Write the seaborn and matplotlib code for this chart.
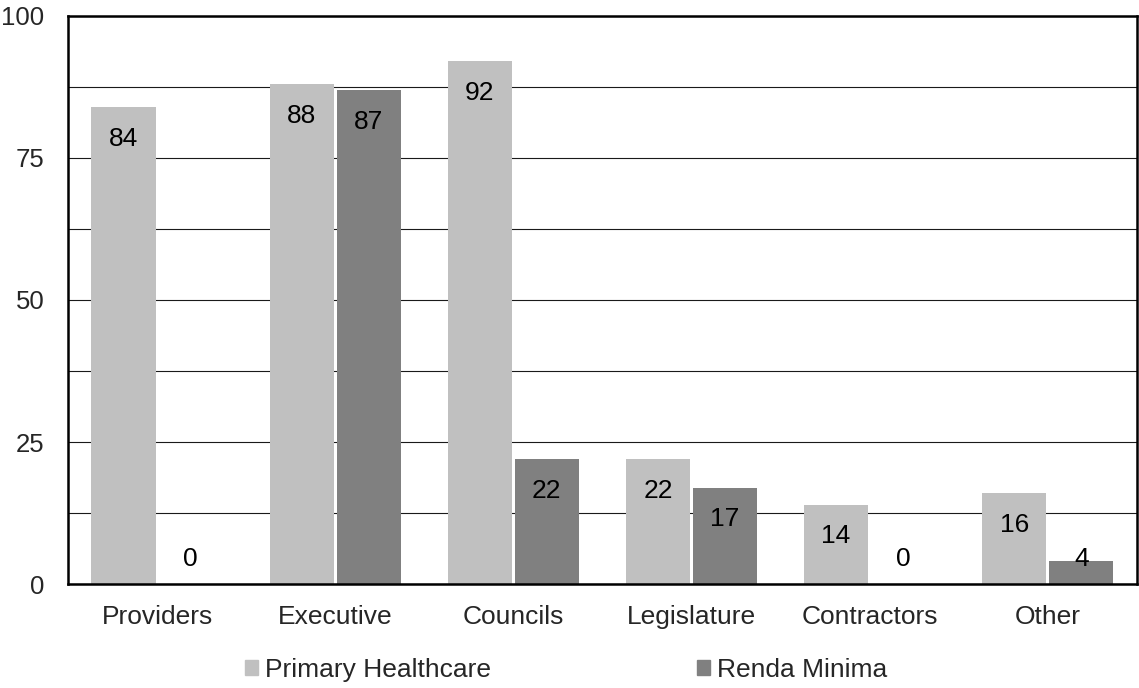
import pandas as pd
import matplotlib
matplotlib.use("Agg")
import matplotlib.pyplot as plt
import matplotlib.patches as mpatches
import seaborn as sns

# data
categories = ["Providers", "Executive", "Councils", "Legislature", "Contractors", "Other"]
primary_healthcare = [84, 88, 92, 22, 14, 16]
renda_minima = [0, 87, 22, 17, 0, 4]
series_names = ["Primary Healthcare", "Renda Minima"]
colors = {"Primary Healthcare": "#c0c0c0", "Renda Minima": "#808080"}

df = pd.DataFrame({
    "category": categories * 2,
    "value": primary_healthcare + renda_minima,
    "series": [series_names[0]] * len(categories) + [series_names[1]] * len(categories),
})

sns.set_style("white")
plt.rcParams["font.family"] = ["Liberation Sans", "DejaVu Sans"]

fig = plt.figure(figsize=(11.39, 6.88), dpi=100)
ax = fig.add_axes([0.0597, 0.151, 0.9383, 0.826])

sns.barplot(data=df, x="category", y="value", hue="series", order=categories,
            hue_order=series_names, palette=colors, width=0.753, gap=0.044,
            linewidth=0, saturation=1, legend=False, ax=ax)

ax.set_ylim(0, 100)
ax.set_xlim(-0.5, len(categories) - 0.5)
ax.set_yticks([0, 25, 50, 75, 100])
ax.set_yticks([12.5, 37.5, 62.5, 87.5], minor=True)
ax.grid(True, axis="y", which="both", color="#1a1a1a", linewidth=0.8)
ax.set_axisbelow(True)
ax.tick_params(axis="y", which="both", length=0, pad=17, labelsize=18.5)
ax.tick_params(axis="x", length=0, pad=15, labelsize=19)
ax.set_xlabel("")
ax.set_ylabel("")
for s in ax.spines.values():
    s.set_visible(True)
    s.set_color("black")
    s.set_linewidth(1.8)

# value labels just inside the top of each bar
for cont, vals in zip(ax.containers, [primary_healthcare, renda_minima]):
    for bar, v in zip(cont, vals):
        x = bar.get_x() + bar.get_width() / 2
        y = max(v - 5.6, 4.5)
        ax.text(x, y, str(v), ha="center", va="center", fontsize=19, color="black")

handles = [mpatches.Patch(color=colors[n], label=n) for n in series_names]
fig.legend(handles=handles, loc="center left", bbox_to_anchor=(0.215, 0.026),
           ncol=2, frameon=False, fontsize=19, handlelength=0.5, handleheight=0.5,
           handletextpad=0.27, columnspacing=7.8, borderaxespad=0, borderpad=0)

plt.savefig("out.png", dpi=100)
